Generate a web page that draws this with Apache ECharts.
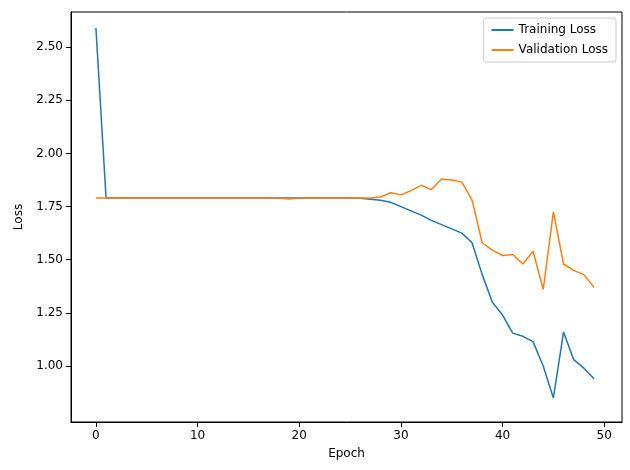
<!DOCTYPE html>
<html>
<head>
<meta charset="utf-8">
<script src="https://cdn.jsdelivr.net/npm/echarts@6/dist/echarts.min.js"></script>
<style>html,body{margin:0;padding:0;background:#fff}#main{width:630px;height:470px}</style>
</head>
<body>
<div id="main"></div>
<script>
var epochs = [];
for (var i = 0; i < 50; i++) epochs.push(i);

var trainLoss = [2.59, 1.79, 1.79, 1.79, 1.79, 1.79, 1.79, 1.79, 1.79, 1.79,
    1.79, 1.79, 1.79, 1.79, 1.79, 1.79, 1.79, 1.79, 1.79, 1.79,
    1.79, 1.79, 1.79, 1.79, 1.79, 1.79, 1.789, 1.785, 1.78, 1.77,
    1.75, 1.73, 1.71, 1.685, 1.665, 1.645, 1.625, 1.58, 1.43, 1.30,
    1.24, 1.155, 1.14, 1.115, 1.00, 0.85, 1.16, 1.03, 0.99, 0.94];
var valLoss = [1.79, 1.79, 1.79, 1.79, 1.79, 1.79, 1.79, 1.79, 1.79, 1.79,
    1.79, 1.79, 1.79, 1.79, 1.79, 1.79, 1.79, 1.79, 1.79, 1.786,
    1.79, 1.79, 1.79, 1.79, 1.79, 1.79, 1.79, 1.79, 1.795, 1.815,
    1.805, 1.825, 1.85, 1.83, 1.88, 1.875, 1.865, 1.78, 1.58, 1.545,
    1.52, 1.525, 1.48, 1.54, 1.36, 1.725, 1.48, 1.45, 1.43, 1.37];
var xTicks = [0, 10, 20, 30, 40, 50];
var yTicks = [1.00, 1.25, 1.50, 1.75, 2.00, 2.25, 2.50];

function pairs(arr) {
    return arr.map(function (v, i) { return [epochs[i], v]; });
}

var myChart = echarts.init(document.getElementById('main'));
var axisText = { color: '#000', fontSize: 12, fontFamily: 'DejaVu Sans' };
var option = {
    animation: false,
    textStyle: { fontFamily: 'DejaVu Sans' },
    grid: { left: 71, right: 8, top: 12, bottom: 48, show: true, borderColor: '#000', borderWidth: 1 },
    legend: {
        right: 14, top: 18, orient: 'vertical',
        itemWidth: 22, itemHeight: 2, itemGap: 8,
        padding: [6, 8],
        borderColor: '#ccc', borderWidth: 1, borderRadius: 3,
        textStyle: { color: '#000', fontSize: 12 },
        data: [{ name: 'Training Loss', icon: 'rect' }, { name: 'Validation Loss', icon: 'rect' }]
    },
    xAxis: {
        type: 'value', min: -2.45, max: 51.75,
        name: 'Epoch', nameLocation: 'middle', nameGap: 26,
        nameTextStyle: axisText,
        splitLine: { show: false },
        axisLine: { onZero: false, lineStyle: { color: '#000' } },
        axisTick: { customValues: xTicks, lineStyle: { color: '#000' } },
        axisLabel: Object.assign({ customValues: xTicks }, axisText)
    },
    yAxis: {
        type: 'value', min: 0.737, max: 2.665,
        name: 'Loss', nameLocation: 'middle', nameGap: 46, nameRotate: 90,
        nameTextStyle: axisText,
        splitLine: { show: false },
        axisLine: { show: true, onZero: false, lineStyle: { color: '#000' } },
        axisTick: { show: true, customValues: yTicks, lineStyle: { color: '#000' } },
        axisLabel: Object.assign({ customValues: yTicks, formatter: function (v) { return v.toFixed(2); } }, axisText)
    },
    series: [
        { name: 'Training Loss', type: 'line', data: pairs(trainLoss), showSymbol: false,
          color: '#1f77b4', lineStyle: { width: 1.5 } },
        { name: 'Validation Loss', type: 'line', data: pairs(valLoss), showSymbol: false,
          color: '#ff7f0e', lineStyle: { width: 1.5 } }
    ]
};
myChart.setOption(option);
</script>
</body>
</html>
